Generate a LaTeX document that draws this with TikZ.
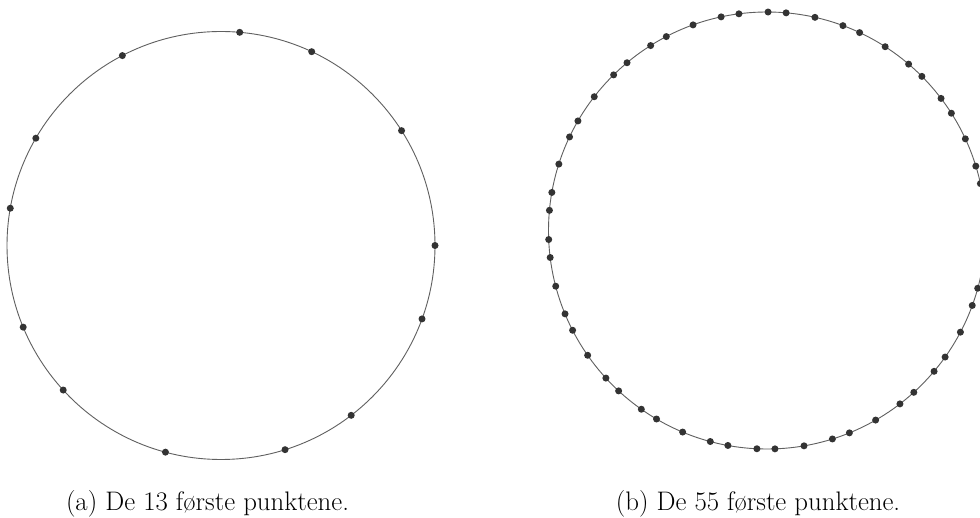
\documentclass[tikz,border=0pt]{standalone}
\usepackage{fontspec}
\definecolor{ringgray}{HTML}{606060}
\definecolor{dotgray}{HTML}{333333}
\tikzset{
  ring/.style={draw=ringgray, line width=0.9pt},
  dot/.style={circle, fill=dotgray, inner sep=0pt, minimum size=7pt},
  captext/.style={anchor=base, inner sep=0pt, font=\fontsize{26.8}{32}\selectfont}
}
\begin{document}
\begin{tikzpicture}[x=1pt,y=-1pt]
\useasboundingbox (0,0) rectangle (980,518);
\fill[white] (0,0) rectangle (980,518);
\begin{scope}
\clip (0,0) rectangle (980,518);
% left circle: 13 points
\coordinate (ca) at (221,245.5);
\draw[ring] (ca) circle[radius=214];
\foreach \k in {0,...,12}{
  \pgfmathsetmacro\ang{mod(\k*222.4922359,360)}
  \node[dot] (a\k) at ({221+214*cos(\ang)},{245.5-214*sin(\ang)}) {};
}
% right circle: 55 points
\coordinate (cb) at (767,230.5);
\draw[ring] (cb) circle[radius=218.5];
\foreach \k in {0,...,54}{
  \pgfmathsetmacro\ang{mod(\k*222.4922359,360)}
  \node[dot] (b\k) at ({767+218.5*cos(\ang)},{230.5-218.5*sin(\ang)}) {};
}
\end{scope}
\node[captext] (capa) at (207.5,510) {(a) De 13 første punktene.};
\node[captext] (capb) at (758,510) {(b) De 55 første punktene.};
\end{tikzpicture}
\end{document}
